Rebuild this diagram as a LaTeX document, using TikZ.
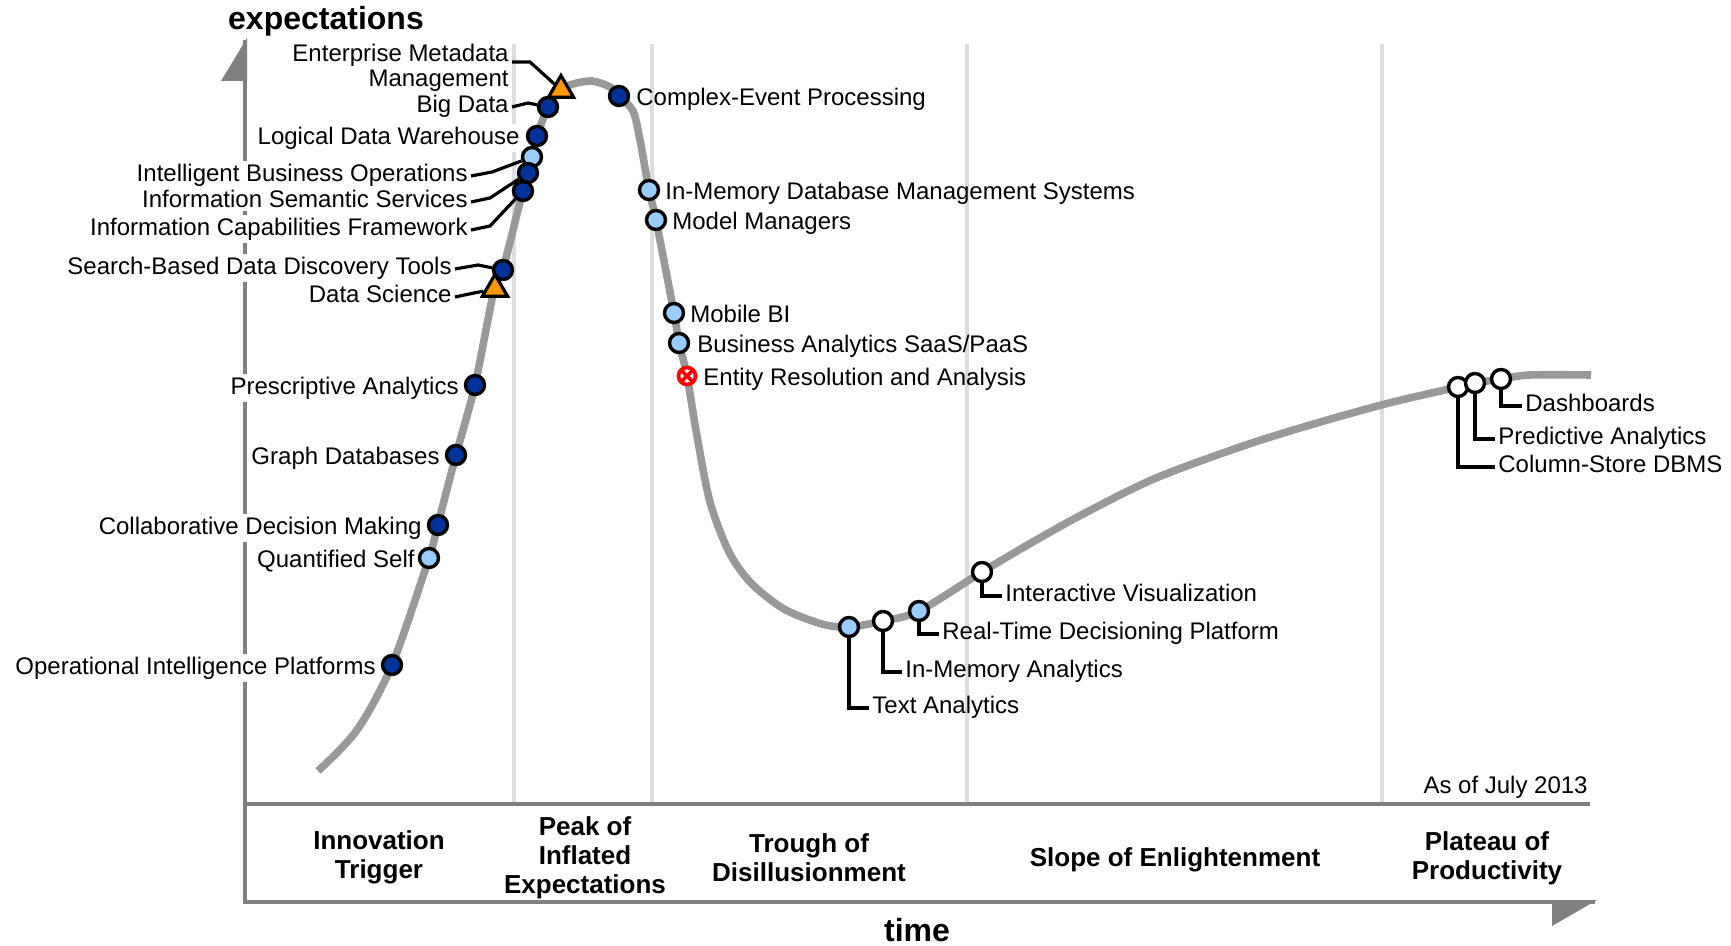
\documentclass[tikz,border=0pt]{standalone}
\usepackage{fontspec}
\setmainfont{Liberation Sans}
\usetikzlibrary{shapes.geometric}
\definecolor{dkblue}{RGB}{0,51,153}
\definecolor{ltblue}{RGB}{153,204,255}
\definecolor{orng}{RGB}{255,153,0}
\definecolor{axisgray}{RGB}{128,128,128}
\definecolor{curvegray}{RGB}{153,153,153}
\definecolor{phasegray}{RGB}{221,221,221}
\begin{document}
\begin{tikzpicture}[x=0.5pt,y=-0.5pt,
  lbl/.style={font=\fontsize{12}{12.5}\selectfont, inner sep=1.5pt, yshift=-2pt},
  lbll/.style={lbl, fill=white, anchor=mid east},
  lblr/.style={lbl, anchor=mid west},
  phase/.style={font=\bfseries\fontsize{13}{14.5}\selectfont, align=center, yshift=-1pt},
  axtitle/.style={font=\bfseries\fontsize{16}{18}\selectfont},
  dotbase/.style={circle, draw=black, line width=1.7pt, minimum size=9.5pt, inner sep=0pt},
  dkdot/.style={dotbase, fill=dkblue},
  ltdot/.style={dotbase, fill=ltblue},
  wtdot/.style={dotbase, fill=white},
  tri/.style={regular polygon, regular polygon sides=3, draw=black, line width=1.6pt, fill=orng, minimum size=14.5pt, inner sep=0pt},
  obsdot/.style={circle, draw=red, fill=white, line width=1.9pt, minimum size=8.5pt, inner sep=0pt,
    path picture={\draw[red, line width=1.9pt]
      ([shift={(-3.2pt,-3.2pt)}]path picture bounding box.center) -- ([shift={(3.2pt,3.2pt)}]path picture bounding box.center)
      ([shift={(-3.2pt,3.2pt)}]path picture bounding box.center) -- ([shift={(3.2pt,-3.2pt)}]path picture bounding box.center);}},
  leader/.style={draw=black, line width=1.6pt},
  axisline/.style={draw=axisgray, line width=2pt},
  phaseline/.style={draw=phasegray, line width=2pt},
  curveline/.style={draw=curvegray, line width=3.8pt, line join=round}
]
\useasboundingbox (0,0) rectangle (1731,946);

% phase separators
\draw[phaseline] (514,44) -- (514,803);
\draw[phaseline] (652,44) -- (652,803);
\draw[phaseline] (967,44) -- (967,803);
\draw[phaseline] (1382,44) -- (1382,803);

% axes
\draw[axisline] (245,40) -- (245,902) -- (1595,902);
\draw[axisline] (245,804) -- (1590,804);
\fill[axisgray] (247,38) -- (247,81) -- (221,81) -- cycle;
\fill[axisgray] (1552,900) -- (1597,900) -- (1552,926) -- cycle;

\node[axtitle] (ylab) at (326,21) {expectations};
\node[axtitle] (xlab) at (917,930) {time};

% phase labels
\node[phase] (ph1) at (379,855) {Innovation\\Trigger};
\node[phase] (ph2) at (585,856) {Peak of\\Inflated\\Expectations};
\node[phase] (ph3) at (809,856) {Trough of\\Disillusionment};
\node[phase] (ph4) at (1175,858) {Slope of Enlightenment};
\node[phase] (ph5) at (1487,856) {Plateau of\\Productivity};
\node[lbl, anchor=mid east] (asof) at (1591,784) {As of July 2013};

% hype curve
\draw[curveline] plot[smooth, tension=0.5] coordinates {
 (318,771) (357,730) (392,665) (429,558) (438,524) (456,455) (475,385)
 (495,285) (503,269) (523,190) (528,173) (532,157) (537,136) (548,107)
 (560,90) (573,84) (592,81) (610,87) (620,97) (633,111) (640,140)
 (649,190) (656,220) (674,313) (679,343) (687,376) (697,436) (710,502)
 (729,552) (751,583) (784,609) (822,624) (849,627) (883,621) (919,611)
 (982,572) (1031,543) (1085,513) (1156,478) (1246,445) (1317,423)
 (1389,403) (1458,387) (1475,383) (1501,379) (1530,375) (1591,375)};

% left labels
\node[lbl, fill=white, anchor=east, align=right] (emmL) at (512,64) {Enterprise Metadata\\Management};
\node[lbll] (bdL) at (512,103) {Big Data};
\node[lbll] (ldwL) at (523,135) {Logical Data Warehouse};
\node[lbll] (iboL) at (471,172) {Intelligent Business Operations};
\node[lbll] (issL) at (471,198) {Information Semantic Services};
\node[lbll] (icfL) at (471,226) {Information Capabilities Framework};
\node[lbll] (sbL) at (455,265) {Search-Based Data Discovery Tools};
\node[lbll] (dsL) at (455,293) {Data Science};
\node[lbll] (paL) at (462,385) {Prescriptive Analytics};
\node[lbll] (gdL) at (443,455) {Graph Databases};
\node[lbll] (cdmL) at (425,525) {Collaborative Decision Making};
\node[lbll] (qsL) at (418,558) {Quantified Self};
\node[lbll] (oipL) at (379,665) {Operational Intelligence Platforms};

% right labels
\node[lblr] (cepL) at (633,96) {Complex-Event Processing};
\node[lblr] (imdL) at (662,190) {In-Memory Database Management Systems};
\node[lblr] (mmL) at (669,220) {Model Managers};
\node[lblr] (mbiL) at (687,313) {Mobile BI};
\node[lblr] (baL) at (694,343) {Business Analytics SaaS/PaaS};
\node[lblr] (erL) at (700,376) {Entity Resolution and Analysis};
\node[lblr] (taL) at (869,704) {Text Analytics};
\node[lblr] (imaL) at (902,668) {In-Memory Analytics};
\node[lblr] (rtdL) at (939,630) {Real-Time Decisioning Platform};
\node[lblr] (ivL) at (1002,592) {Interactive Visualization};
\node[lblr] (dashL) at (1522,402) {Dashboards};
\node[lblr] (praL) at (1495,435) {Predictive Analytics};
\node[lblr] (csL) at (1495,463) {Column-Store DBMS};

% markers
\node[tri] (emm) at (561,90) {};
\node[dkdot] (bd) at (548,107) {};
\node[dkdot] (ldw) at (537,136) {};
\node[ltdot] (ibo) at (532,157) {};
\node[dkdot] (iss) at (528,173) {};
\node[dkdot] (icf) at (523,191) {};
\node[dkdot] (sb) at (503,270) {};
\node[tri] (ds) at (495,289) {};
\node[dkdot] (pa) at (475,385) {};
\node[dkdot] (gd) at (456,455) {};
\node[dkdot] (cdm) at (438,525) {};
\node[ltdot] (qs) at (429,558) {};
\node[dkdot] (oip) at (392,665) {};
\node[dkdot] (cep) at (619,96) {};
\node[ltdot] (imd) at (649,190) {};
\node[ltdot] (mm) at (656,220) {};
\node[ltdot] (mbi) at (674,313) {};
\node[ltdot] (ba) at (679,343) {};
\node[obsdot] (er) at (687,376) {};
\node[ltdot] (ta) at (849,627) {};
\node[wtdot] (ima) at (883,621) {};
\node[ltdot] (rtd) at (919,611) {};
\node[wtdot] (iv) at (982,572) {};
\node[wtdot] (cs) at (1458,387) {};
\node[wtdot] (pra) at (1475,383) {};
\node[wtdot] (dash) at (1501,379) {};

% leader lines
\coordinate (emmB) at (530,62);
\coordinate (bdB) at (528,103);
\coordinate (iboB) at (492,172);
\coordinate (issB) at (490,198);
\coordinate (icfB) at (490,226);
\coordinate (sbB) at (478,265);
\coordinate (dsB) at (474,293);
\draw[leader] (emmL.east |- emmB) -- (emmB) -- (emm);
\draw[leader] (bdL.mid east) -- (bdB) -- (bd);
\draw[leader] (iboL.mid east) -- (iboB) -- (ibo);
\draw[leader] (issL.mid east) -- (issB) -- (iss);
\draw[leader] (icfL.mid east) -- (icfB) -- (icf);
\draw[leader] (sbL.mid east) -- (sbB) -- (sb);
\draw[leader] (dsL.mid east) -- (dsB) -- (ds);
\draw[leader] (ta) |- (taL.mid west);
\draw[leader] (ima) |- (imaL.mid west);
\draw[leader] (rtd) |- (rtdL.mid west);
\draw[leader] (iv) |- (ivL.mid west);
\draw[leader] (dash) |- (dashL.mid west);
\draw[leader] (pra) |- (praL.mid west);
\draw[leader] (cs) |- (csL.mid west);
\end{tikzpicture}
\end{document}
